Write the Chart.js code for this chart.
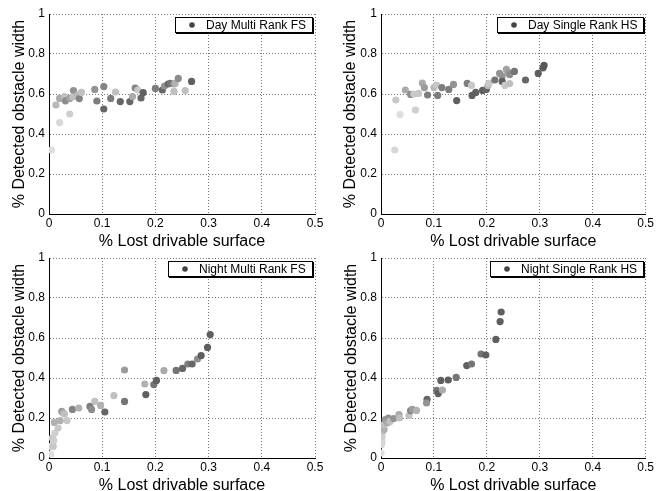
<!DOCTYPE html>
<html>
<head>
<meta charset="utf-8">
<script src="https://cdn.jsdelivr.net/npm/chart.js@4.4.1/dist/chart.umd.min.js"></script>
<style>
  html, body { margin: 0; padding: 0; background: #fff; overflow: hidden; width: 656px; height: 491px; position: relative; }
  canvas { position: absolute; }
</style>
</head>
<body>
<canvas id="c1" width="328" height="262" style="left:0;top:0"></canvas>
<canvas id="c2" width="328" height="262" style="left:328px;top:0"></canvas>
<canvas id="c3" width="328" height="262" style="left:0;top:245px"></canvas>
<canvas id="c4" width="328" height="262" style="left:328px;top:245px"></canvas>
<script>
// shade: 0 = lightest point, 1 = darkest point
const dayMultiX = [0.005, 0.013, 0.02, 0.02, 0.029, 0.031, 0.039, 0.039, 0.046, 0.045, 0.054, 0.057, 0.061,
  0.086, 0.09, 0.103, 0.103, 0.116, 0.125, 0.134, 0.152, 0.157, 0.162, 0.167, 0.173, 0.177,
  0.20, 0.213, 0.217, 0.224, 0.228, 0.235, 0.237, 0.235, 0.243, 0.256, 0.268];
const dayMultiY = [0.32, 0.545, 0.457, 0.578, 0.587, 0.566, 0.50, 0.578, 0.617, 0.585, 0.595, 0.577, 0.608,
  0.623, 0.565, 0.637, 0.525, 0.578, 0.61, 0.562, 0.562, 0.587, 0.63, 0.62, 0.58, 0.607,
  0.628, 0.62, 0.64, 0.65, 0.653, 0.65, 0.653, 0.613, 0.678, 0.617, 0.663];
const dayMultiShade = [0.0, 0.25, 0.05, 0.35, 0.2, 0.55, 0.1, 0.4, 0.5, 0.2, 0.25, 0.6, 0.2,
  0.5, 0.65, 0.6, 0.8, 0.65, 0.2, 0.8, 0.8, 0.35, 0.6, 0.15, 0.8, 0.85,
  0.65, 0.8, 0.5, 0.8, 0.7, 0.5, 0.3, 0.2, 0.55, 0.2, 0.85];

const daySingleX = [0.026, 0.028, 0.036, 0.046, 0.056, 0.062, 0.065, 0.071, 0.078, 0.082, 0.088, 0.10, 0.105,
  0.107, 0.115, 0.128, 0.137, 0.143, 0.163, 0.171, 0.172, 0.179, 0.192, 0.199, 0.202, 0.204,
  0.215, 0.224, 0.229, 0.229, 0.234, 0.237, 0.241, 0.243, 0.243, 0.252, 0.273, 0.297, 0.306, 0.308];
const daySingleY = [0.32, 0.57, 0.497, 0.62, 0.598, 0.60, 0.52, 0.603, 0.655, 0.632, 0.595, 0.632, 0.645,
  0.593, 0.632, 0.623, 0.648, 0.567, 0.653, 0.643, 0.593, 0.608, 0.618, 0.623, 0.643, 0.653,
  0.67, 0.703, 0.69, 0.663, 0.643, 0.723, 0.707, 0.697, 0.652, 0.713, 0.67, 0.703, 0.73, 0.743];
const daySingleShade = [0.05, 0.15, 0.0, 0.35, 0.55, 0.15, 0.1, 0.15, 0.35, 0.45, 0.65, 0.25, 0.15,
  0.65, 0.65, 0.65, 0.5, 0.85, 0.65, 0.15, 0.85, 0.85, 0.85, 0.8, 0.25, 0.15,
  0.7, 0.5, 0.5, 0.85, 0.15, 0.4, 0.45, 0.55, 0.2, 0.7, 0.8, 0.85, 0.85, 0.9];

const nightMultiX = [0.003, 0.003, 0.008, 0.006, 0.009, 0.011, 0.01, 0.017, 0.021, 0.024, 0.027, 0.029, 0.034,
  0.044, 0.056, 0.077, 0.08, 0.086, 0.097, 0.105, 0.122, 0.142, 0.142, 0.18, 0.182, 0.197,
  0.202, 0.216, 0.239, 0.251, 0.261, 0.269, 0.279, 0.286, 0.298, 0.303];
const nightMultiY = [0.02, 0.058, 0.058, 0.10, 0.087, 0.125, 0.178, 0.15, 0.187, 0.233, 0.225, 0.22, 0.187,
  0.243, 0.25, 0.258, 0.243, 0.283, 0.263, 0.23, 0.312, 0.44, 0.283, 0.37, 0.317, 0.367,
  0.388, 0.437, 0.438, 0.448, 0.47, 0.47, 0.495, 0.512, 0.553, 0.617];
const nightMultiShade = [0.0, 0.1, 0.15, 0.15, 0.1, 0.1, 0.3, 0.15, 0.3, 0.45, 0.35, 0.2, 0.15,
  0.6, 0.3, 0.65, 0.55, 0.2, 0.3, 0.8, 0.2, 0.45, 0.7, 0.3, 0.85, 0.7,
  0.85, 0.35, 0.7, 0.8, 0.65, 0.8, 0.55, 0.85, 0.85, 0.85];

const nightSingleX = [0.0, 0.001, 0.002, 0.002, 0.003, 0.006, 0.005, 0.008, 0.012, 0.014, 0.017, 0.024, 0.034,
  0.035, 0.053, 0.056, 0.059, 0.067, 0.087, 0.086, 0.105, 0.108, 0.113, 0.116, 0.127, 0.142,
  0.162, 0.171, 0.189, 0.198, 0.217, 0.225, 0.227];
const nightSingleY = [0.025, 0.067, 0.083, 0.108, 0.133, 0.142, 0.167, 0.192, 0.175, 0.2, 0.183, 0.197, 0.217,
  0.2, 0.213, 0.237, 0.243, 0.238, 0.293, 0.275, 0.338, 0.322, 0.388, 0.34, 0.39, 0.403,
  0.462, 0.47, 0.52, 0.515, 0.593, 0.682, 0.73];
const nightSingleShade = [0.0, 0.05, 0.05, 0.1, 0.15, 0.3, 0.2, 0.45, 0.35, 0.5, 0.2, 0.5, 0.35,
  0.2, 0.2, 0.65, 0.45, 0.3, 0.8, 0.5, 0.7, 0.85, 0.85, 0.35, 0.85, 0.7,
  0.85, 0.7, 0.7, 0.85, 0.85, 0.85, 0.85];

const xTicks = [0, 0.1, 0.2, 0.3, 0.4, 0.5];
const yTicks = [0, 0.2, 0.4, 0.6, 0.8, 1];

Chart.defaults.font.family = '"Liberation Sans", Arial, Helvetica, sans-serif';
Chart.defaults.color = '#000';

function gray(s) {
  const g = Math.round(222 - 150 * s);
  return `rgb(${g},${g},${g})`;
}

// legend drawn as a boxed label inside the top right of the plot
const boxLegend = {
  id: 'boxLegend',
  afterDatasetsDraw(chart, args, opts) {
    const { ctx, chartArea } = chart;
    ctx.save();
    ctx.font = '12px "Liberation Sans", Arial, sans-serif';
    const w = ctx.measureText(opts.text).width;
    const right = Math.round(chartArea.right - 2);
    const top = Math.round(chartArea.top + 3);
    const left = Math.round(right - w - 38);
    const h = 16;
    ctx.fillStyle = '#fff';
    ctx.fillRect(left, top, right - left, h);
    ctx.strokeStyle = '#000';
    ctx.lineWidth = 1;
    ctx.strokeRect(left + 0.5, top + 0.5, right - left - 1, h - 1);
    // slight shadow on the right and bottom edges
    ctx.fillStyle = '#000';
    ctx.fillRect(right, top + 1, 1, h);
    ctx.fillRect(left + 1, top + h, right - left, 1);
    ctx.fillStyle = '#444';
    ctx.beginPath();
    ctx.arc(left + 17, top + h / 2, 2.8, 0, Math.PI * 2);
    ctx.fill();
    ctx.fillStyle = '#000';
    ctx.textBaseline = 'middle';
    ctx.fillText(opts.text, left + 31, top + h / 2 + 1);
    ctx.restore();
  }
};

function makeChart(id, label, xs, ys, shade, pad) {
  new Chart(document.getElementById(id), {
    type: 'scatter',
    data: {
      datasets: [{
        label: label,
        data: xs.map((x, i) => ({ x: x, y: ys[i] })),
        backgroundColor: shade.map(gray),
        borderWidth: 0,
        pointRadius: 3.6,
        pointHoverRadius: 3.6
      }]
    },
    options: {
      responsive: false,
      animation: false,
      events: [],
      layout: { padding: { left: pad.left, right: pad.right, top: pad.top, bottom: pad.bottom } },
      plugins: {
        legend: { display: false },
        tooltip: { enabled: false },
        boxLegend: { text: label }
      },
      scales: {
        x: {
          type: 'linear',
          min: xTicks[0],
          max: xTicks[xTicks.length - 1],
          afterBuildTicks: (s) => { s.ticks = xTicks.map(v => ({ value: v })); },
          ticks: { padding: 2, font: { size: 12 }, callback: (v) => String(+v.toFixed(1)) },
          grid: { color: '#777', lineWidth: 1, drawTicks: false },
          border: { color: '#000', width: 1, dash: [1, 2] },
          title: { display: true, text: '% Lost drivable surface', font: { size: 16 }, padding: 0 },
          afterFit: (s) => { s.height = 37; }
        },
        y: {
          type: 'linear',
          min: yTicks[0],
          max: yTicks[yTicks.length - 1],
          afterBuildTicks: (s) => { s.ticks = yTicks.map(v => ({ value: v })); },
          ticks: { padding: 4, font: { size: 12 }, callback: (v) => String(+v.toFixed(1)) },
          grid: { color: '#777', lineWidth: 1, drawTicks: false },
          border: { color: '#000', width: 1, dash: [1, 2] },
          title: { display: true, text: '% Detected obstacle width', font: { size: 16 }, padding: 0 },
          afterFit: (s) => { s.width = pad.yWidth; }
        }
      }
    },
    plugins: [boxLegend]
  });
}

makeChart('c1', 'Day Multi Rank FS', dayMultiX, dayMultiY, dayMultiShade,
  { left: 10, right: 13, top: 14, bottom: 11, yWidth: 39 });
makeChart('c2', 'Day Single Rank HS', daySingleX, daySingleY, daySingleShade,
  { left: 13, right: 9, top: 14, bottom: 11, yWidth: 40 });
makeChart('c3', 'Night Multi Rank FS', nightMultiX, nightMultiY, nightMultiShade,
  { left: 10, right: 13, top: 13, bottom: 12, yWidth: 39 });
makeChart('c4', 'Night Single Rank HS', nightSingleX, nightSingleY, nightSingleShade,
  { left: 14, right: 9, top: 13, bottom: 12, yWidth: 39 });
</script>
</body>
</html>
